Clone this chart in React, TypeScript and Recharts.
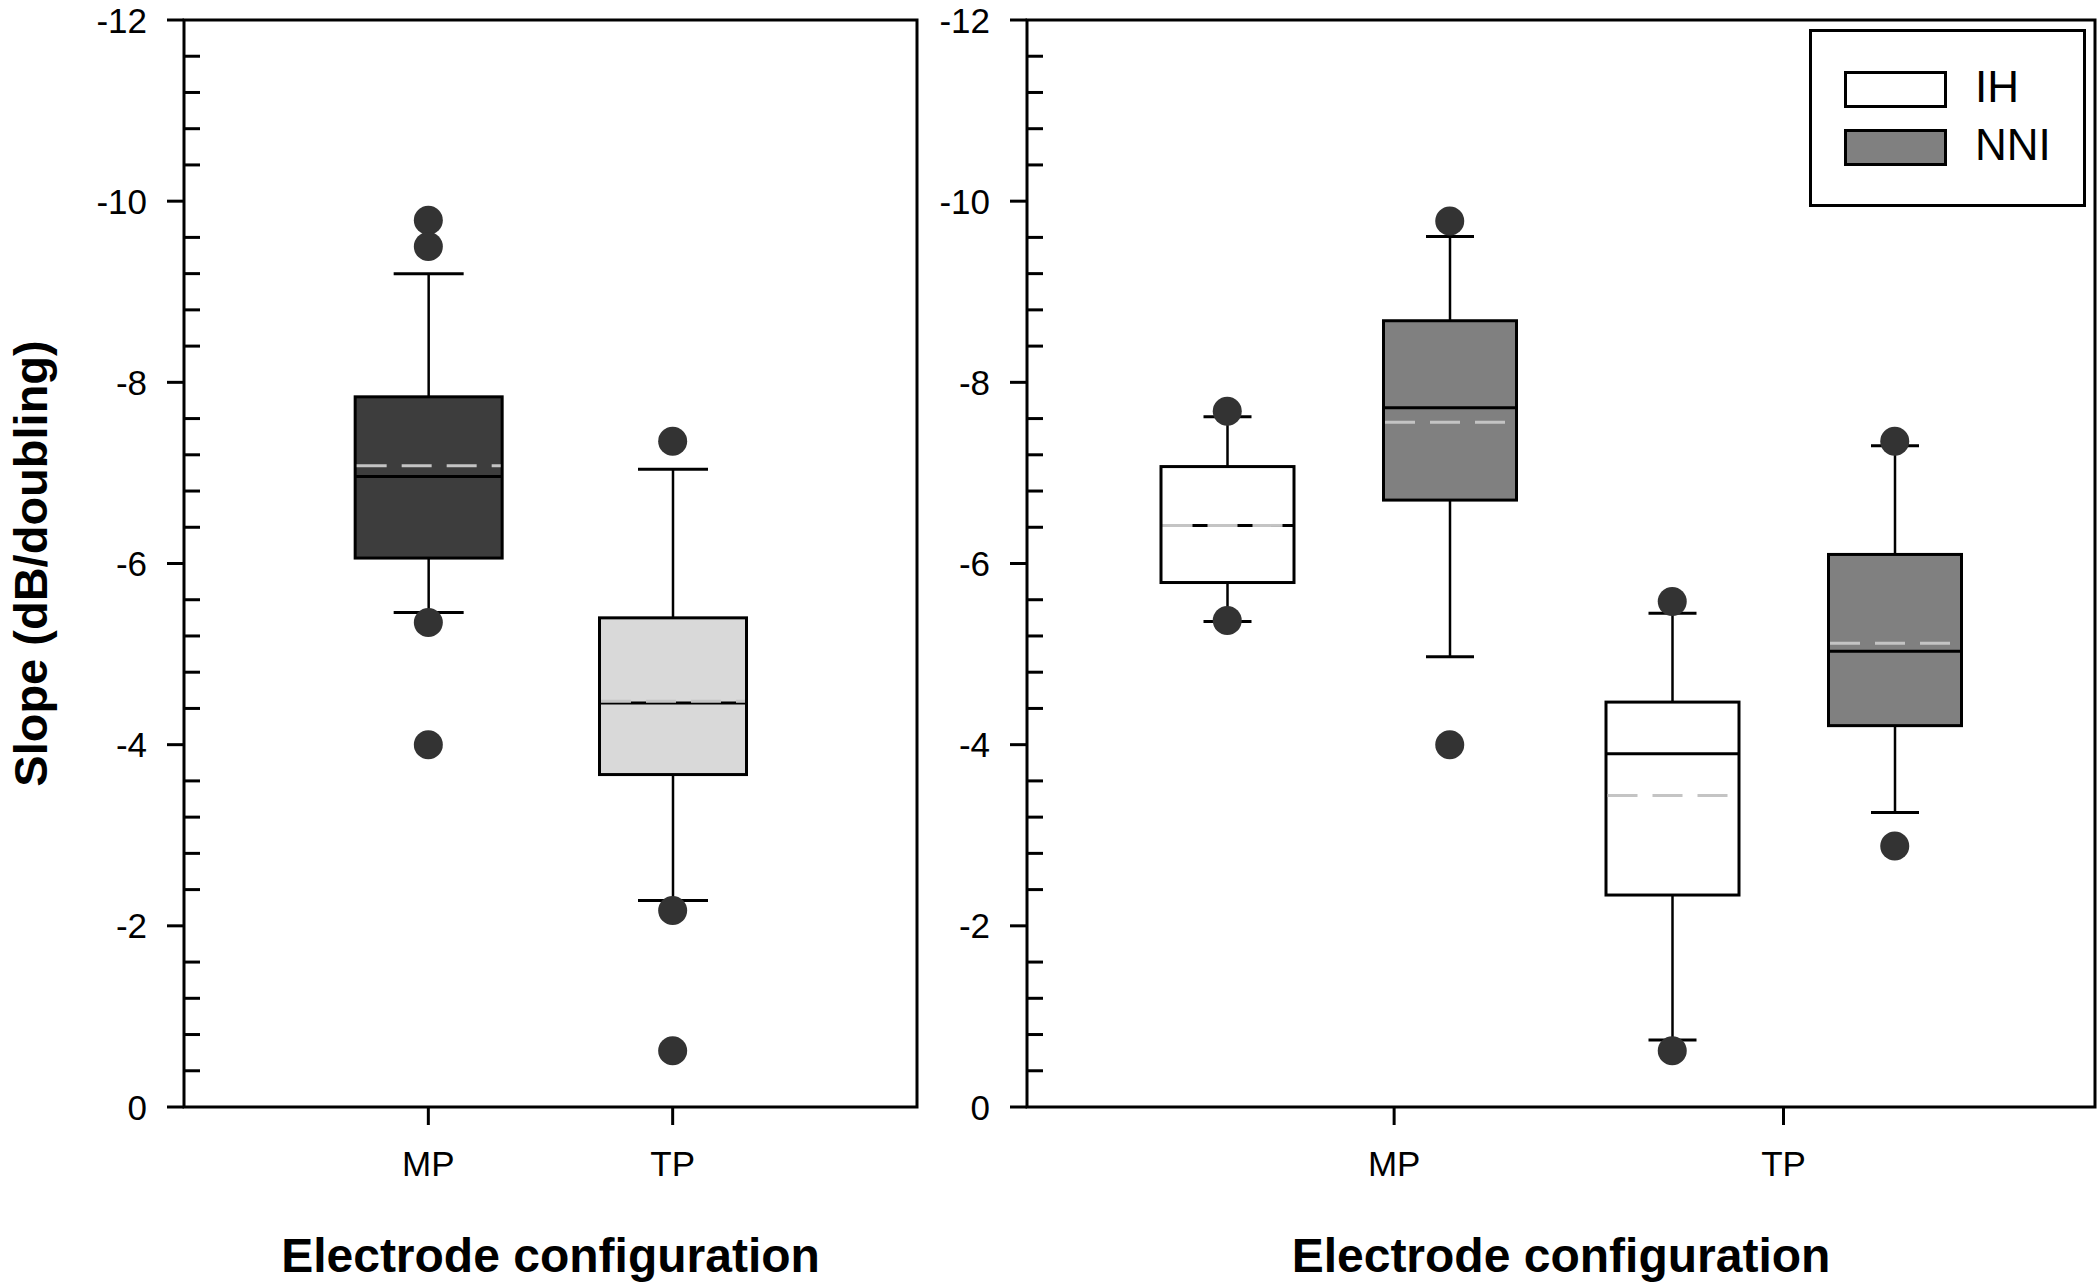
import { Bar, ComposedChart, Label, Legend, ReferenceArea, Scatter, XAxis, YAxis } from "recharts";

const configurations = ["MP", "TP"];
const groups = ["IH", "NNI"];
const majorTicks = [-12, -10, -8, -6, -4, -2, 0];

// min/max = whisker ends, q1/q3 = box edges (values are negative slopes)
const pooledBoxes = [
    { config: "MP", min: -9.2, q1: -7.84, median: -6.96, q3: -6.06, max: -5.46, mean: -7.08 },
    { config: "TP", min: -7.04, q1: -5.4, median: -4.46, q3: -3.67, max: -2.28, mean: -4.48 },
];

const pooledOutliers = [
    { config: "MP", value: -9.79 },
    { config: "MP", value: -9.5 },
    { config: "MP", value: -5.35 },
    { config: "MP", value: -4.0 },
    { config: "TP", value: -7.35 },
    { config: "TP", value: -2.17 },
    { config: "TP", value: -0.62 },
];

const groupBoxes = [
    { config: "MP", group: "IH", min: -7.62, q1: -7.07, median: -6.42, q3: -5.79, max: -5.36, mean: -6.42 },
    { config: "MP", group: "NNI", min: -9.61, q1: -8.68, median: -7.72, q3: -6.7, max: -4.97, mean: -7.56 },
    { config: "TP", group: "IH", min: -5.45, q1: -4.47, median: -3.9, q3: -2.34, max: -0.74, mean: -3.44 },
    { config: "TP", group: "NNI", min: -7.3, q1: -6.1, median: -5.03, q3: -4.21, max: -3.25, mean: -5.12 },
];

const groupOutliers = [
    { config: "MP", group: "IH", value: -7.68 },
    { config: "MP", group: "IH", value: -5.37 },
    { config: "MP", group: "NNI", value: -9.78 },
    { config: "MP", group: "NNI", value: -4.0 },
    { config: "TP", group: "IH", value: -5.58 },
    { config: "TP", group: "IH", value: -0.62 },
    { config: "TP", group: "NNI", value: -7.35 },
    { config: "TP", group: "NNI", value: -2.88 },
];

const FONT = '"Liberation Sans", Arial, Helvetica, sans-serif';
const pooledFill: Record<string, string> = { MP: "#3d3d3d", TP: "#d9d9d9" };
const groupFill: Record<string, string> = { IH: "#ffffff", NNI: "#808080" };

// minor ticks every 0.4 between the labelled ones
const yTicks = majorTicks
    .slice(0, -1)
    .flatMap((m) => [0, 1, 2, 3, 4].map((k) => Math.round((m + k * 0.4) * 10) / 10))
    .concat([0]);

// x layout
const pooledX = (config: string) => configurations.indexOf(config) + 1;
const groupX = (config: string, group: string) => configurations.indexOf(config) * 2 + groups.indexOf(group) + 0.9;
const groupTickX = [1.65, 3.4];

const pooledRows = pooledBoxes.map((b) => ({ ...b, x: pooledX(b.config), range: [b.min, b.max], fill: pooledFill[b.config] }));
const pooledDots = pooledOutliers.map((o) => ({ ...o, x: pooledX(o.config) }));
const groupRows = groupBoxes.map((b) => ({ ...b, x: groupX(b.config, b.group), range: [b.min, b.max], fill: groupFill[b.group] }));
const groupDots = groupOutliers.map((o) => ({ ...o, x: groupX(o.config, o.group) }));

const makeBoxShape = (capWidth: number) => (props: any) => {
    const { x, y, width, height, payload } = props;
    const { min, q1, median, q3, max, mean, fill } = payload;
    // axis is reversed, so the top pixel of the bar is the most negative value
    const top = Math.min(y, y + height);
    const span = Math.abs(height);
    const py = (v: number) => top + (span * (v - min)) / (max - min);
    const cx = x + width / 2;
    return (
        <g>
            <line x1={cx} x2={cx} y1={py(min)} y2={py(max)} stroke="#000" strokeWidth={2.5} />
            <line x1={cx - capWidth / 2} x2={cx + capWidth / 2} y1={py(min)} y2={py(min)} stroke="#000" strokeWidth={3} />
            <line x1={cx - capWidth / 2} x2={cx + capWidth / 2} y1={py(max)} y2={py(max)} stroke="#000" strokeWidth={3} />
            <rect x={x} y={py(q1)} width={width} height={py(q3) - py(q1)} fill={fill} stroke="#000" strokeWidth={3} />
            <line x1={x} x2={x + width} y1={py(median)} y2={py(median)} stroke="#000" strokeWidth={3} />
            <line x1={x + 1.5} x2={x + width - 1.5} y1={py(mean)} y2={py(mean)} stroke="#c4c4c4" strokeWidth={3} strokeDasharray="30 15" />
        </g>
    );
};

const outlierShape = (props: any) => <circle cx={props.cx} cy={props.cy} r={14.5} fill="#333333" />;

const YTick = (props: any) => {
    const { x, y, payload } = props;
    const v = payload.value;
    if (majorTicks.includes(v)) {
        return (
            <g>
                <line x1={x - 17} x2={x} y1={y} y2={y} stroke="#000" strokeWidth={3} />
                <text x={x - 37} y={y} textAnchor="end" dominantBaseline="central" fontSize={35} fontFamily={FONT} fill="#000">
                    {v}
                </text>
            </g>
        );
    }
    return <line x1={x} x2={x + 16} y1={y} y2={y} stroke="#000" strokeWidth={3} />;
};

const XTick = (props: any) => {
    const { x, y, index } = props;
    return (
        <g>
            <line x1={x} x2={x} y1={y} y2={y + 18} stroke="#000" strokeWidth={3} />
            <text x={x} y={y + 56} textAnchor="middle" dominantBaseline="central" fontSize={35} fontFamily={FONT} fill="#000">
                {configurations[index]}
            </text>
        </g>
    );
};

const xTitle = (props: any) => {
    const { viewBox } = props;
    return (
        <text x={viewBox.x + viewBox.width / 2} y={viewBox.y + 165} textAnchor="middle" fontSize={48} fontWeight="bold" fontFamily={FONT} fill="#000">
            Electrode configuration
        </text>
    );
};

const yTitle = (props: any) => {
    const { viewBox } = props;
    const cx = viewBox.x + 47;
    const cy = viewBox.y + viewBox.height / 2;
    return (
        <text x={cx} y={cy} transform={`rotate(-90, ${cx}, ${cy})`} textAnchor="middle" fontSize={47} fontWeight="bold" fontFamily={FONT} fill="#000">
            Slope (dB/doubling)
        </text>
    );
};

const LegendBox = () => (
    <div style={{ position: "relative", width: 277, height: 178, border: "3px solid #000", boxSizing: "border-box", background: "#fff", fontFamily: FONT }}>
        {groups.map((g, i) => (
            <div key={g}>
                <div
                    style={{
                        position: "absolute",
                        left: 32,
                        top: 39 + i * 58,
                        width: 103,
                        height: 37,
                        background: groupFill[g],
                        border: "3px solid #000",
                        boxSizing: "border-box",
                    }}
                />
                <div style={{ position: "absolute", left: 163, top: 30 + i * 58, fontSize: 44, lineHeight: "50px", color: "#000" }}>{g}</div>
            </div>
        ))}
    </div>
);

const App = () => {
    return (
        <div style={{ position: "absolute", left: 0, top: 0, width: 2100, height: 1282, background: "#fff" }}>
            {/* pooled */}
            <div style={{ position: "absolute", left: 0, top: 0 }}>
                <ComposedChart width={930} height={1282} data={pooledRows} margin={{ top: 20, right: 13, bottom: 0, left: 0 }}>
                    <XAxis dataKey="x" type="number" domain={[0, 3]} ticks={[1, 2]} interval={0} height={175} tickSize={0} tickMargin={0} axisLine={false} tickLine={false} tick={XTick}>
                        <Label content={xTitle} />
                    </XAxis>
                    <YAxis type="number" domain={[-12, 0]} reversed ticks={yTicks} interval={0} width={184} tickSize={0} tickMargin={0} axisLine={false} tickLine={false} tick={YTick}>
                        <Label content={yTitle} />
                    </YAxis>
                    <ReferenceArea x1={0} x2={3} y1={-12} y2={0} fill="none" stroke="#000" strokeWidth={3} />
                    <Scatter data={pooledDots} dataKey="value" shape={outlierShape} isAnimationActive={false} />
                    <Bar dataKey="range" barSize={147} shape={makeBoxShape(70)} isAnimationActive={false} />
                </ComposedChart>
            </div>
            {/* IH vs NNI */}
            <div style={{ position: "absolute", left: 930, top: 0 }}>
                <ComposedChart width={1170} height={1282} data={groupRows} margin={{ top: 20, right: 5, bottom: 0, left: 0 }}>
                    <XAxis dataKey="x" type="number" domain={[0, 4.8]} ticks={groupTickX} interval={0} height={175} tickSize={0} tickMargin={0} axisLine={false} tickLine={false} tick={XTick}>
                        <Label content={xTitle} />
                    </XAxis>
                    <YAxis type="number" domain={[-12, 0]} reversed ticks={yTicks} interval={0} width={97} tickSize={0} tickMargin={0} axisLine={false} tickLine={false} tick={YTick} />
                    <ReferenceArea x1={0} x2={4.8} y1={-12} y2={0} fill="none" stroke="#000" strokeWidth={3} />
                    <Scatter data={groupDots} dataKey="value" shape={outlierShape} isAnimationActive={false} />
                    <Bar dataKey="range" barSize={133} shape={makeBoxShape(48)} isAnimationActive={false} />
                    <Legend layout="vertical" align="center" verticalAlign="middle" wrapperStyle={{ left: 879, top: 29, width: 277, height: 178 }} content={() => <LegendBox />} />
                </ComposedChart>
            </div>
        </div>
    );
};

export default App;
